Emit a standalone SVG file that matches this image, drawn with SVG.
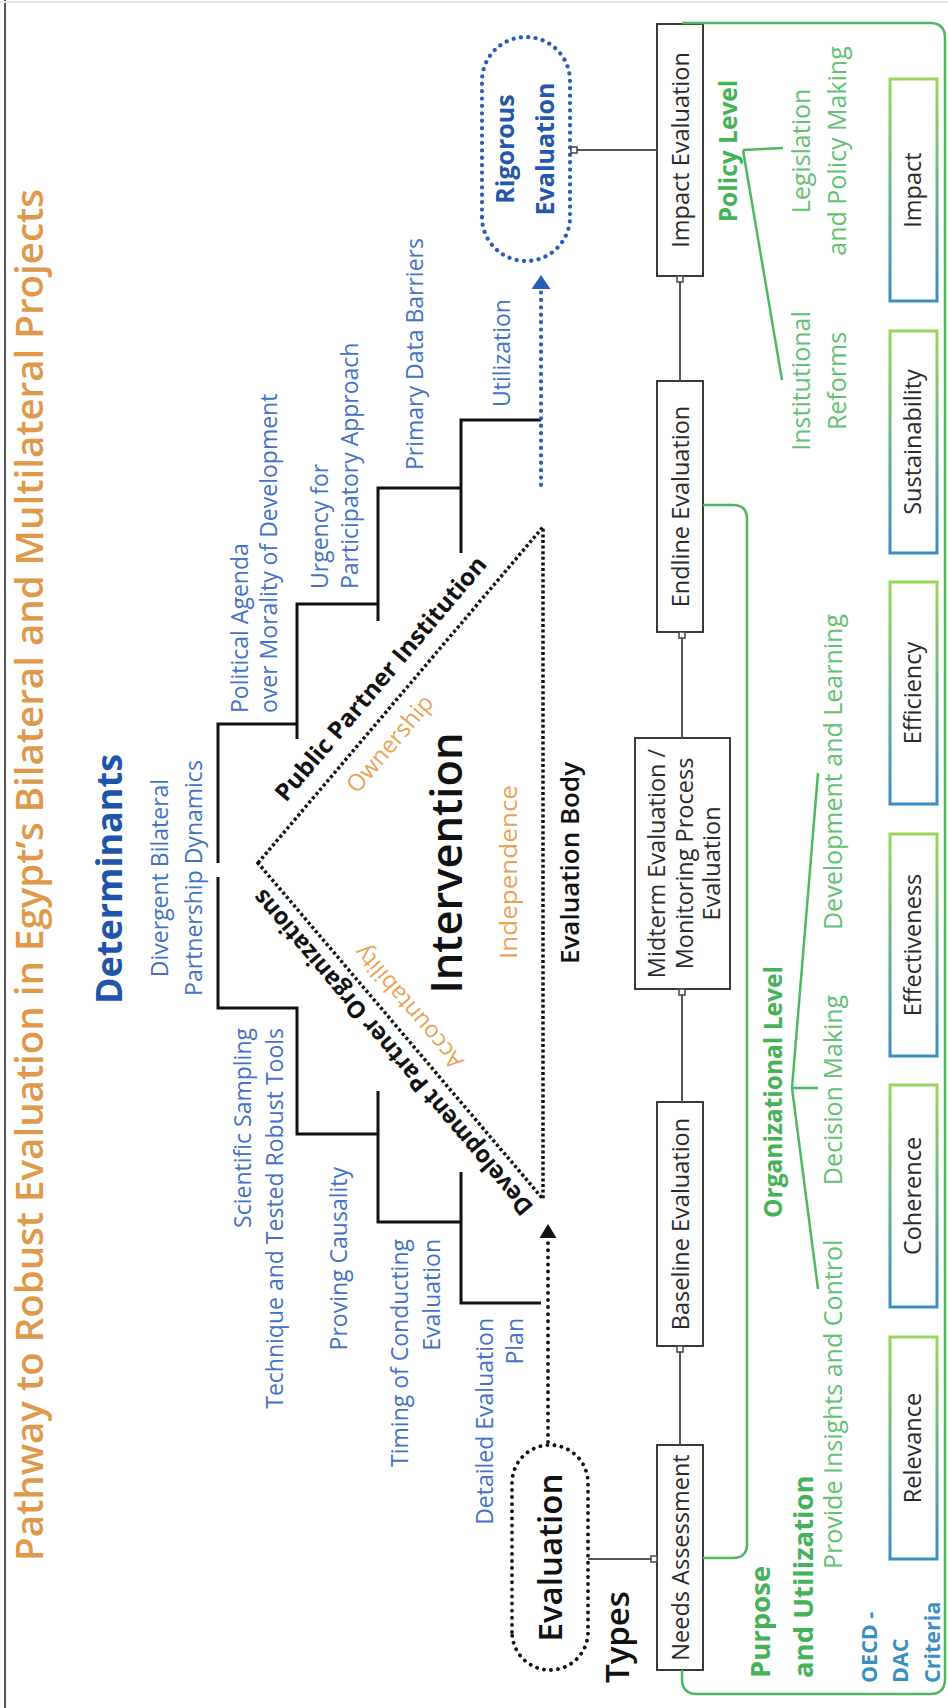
<svg xmlns="http://www.w3.org/2000/svg" width="948" height="1708" viewBox="0 0 948 1708">
<style>
.t{font-family:'Open Sans','Liberation Sans',sans-serif}
.blue{fill:#4472C4;font-size:23px}
.org{fill:#E8A359;font-size:23.5px}
.blk{fill:#111}
.grn{fill:#62C272;font-size:25px}
.grnb{fill:#45B258;font-weight:700}
.box{fill:#fff;stroke:#3a3a3a;stroke-width:2}
.boxt{fill:#2a2a2a;font-size:23.5px;text-anchor:middle}
.crit{fill:#fff;stroke:url(#cg);stroke-width:3}
.step{fill:none;stroke:#111;stroke-width:3}
.conn{fill:none;stroke:#555;stroke-width:2}
.mk{fill:#fff;stroke:#444;stroke-width:1.5}
.gl{fill:none;stroke:#4DB860;stroke-width:2.5}
.dotk{fill:none;stroke:#111;stroke-width:3.5;stroke-dasharray:3 2.6}
.dotr{fill:none;stroke:#111;stroke-width:3.8;stroke-dasharray:0.1 7;stroke-linecap:round}
.dotb{fill:none;stroke:#2A5DB8;stroke-width:4.2;stroke-dasharray:0.1 7.3;stroke-linecap:round}
.mid{text-anchor:middle}
.end{text-anchor:end}
</style>
<defs>
<linearGradient id="cg" x1="0" y1="0" x2="1" y2="0">
<stop offset="0" stop-color="#3A8DBF"/>
<stop offset="1" stop-color="#9BD65A"/>
</linearGradient>
</defs>
<rect width="948" height="1708" fill="#fff"/>
<g transform="translate(0,1708) rotate(-90)" class="t">
<g id="frame">
<path d="M0,5 H1708" stroke="#555" stroke-width="2" fill="none"/>
<path d="M1706,0 V948" stroke="#e6e6e6" stroke-width="2" fill="none"/>
</g>
<g id="title"><text x="833" y="43" class="mid" font-size="38" font-weight="600" fill="#E0994A" textLength="1372" lengthAdjust="spacingAndGlyphs">Pathway to Robust Evaluation in Egypt’s Bilateral and Multilateral Projects</text></g>
<g id="determinants"><text x="829" y="122" class="mid" font-size="36" font-weight="700" fill="#1F55A8">Determinants</text></g>
<g id="det-divergent"><text class="blue mid" x="830" y="168">Divergent Bilateral</text><text class="blue mid" x="830" y="202">Partnership Dynamics</text></g>
<g id="det-political"><text class="blue" x="995" y="248">Political Agenda</text><text class="blue" x="995" y="277">over Morality of Development</text></g>
<g id="det-urgency"><text class="blue" x="1119" y="328">Urgency for</text><text class="blue" x="1119" y="358">Participatory Approach</text></g>
<g id="det-primary"><text class="blue" x="1238" y="423">Primary Data Barriers</text></g>
<g id="det-utilization"><text class="blue" x="1301" y="510">Utilization</text></g>
<g id="det-scientific"><text class="blue end" x="680" y="251">Scientific Sampling</text><text class="blue end" x="680" y="283">Technique and Tested Robust Tools</text></g>
<g id="det-causality"><text class="blue end" x="541" y="347">Proving Causality</text></g>
<g id="det-timing"><text class="blue end" x="469" y="408">Timing of Conducting</text><text class="blue end" x="469" y="440">Evaluation</text></g>
<g id="det-plan"><text class="blue end" x="390" y="493">Detailed Evaluation</text><text class="blue end" x="390" y="523">Plan</text></g>
<g id="intervention">
<polygon class="dotk" points="845,258 1181,543 509,543"/>
<text x="845" y="462" class="mid blk" font-size="44" font-weight="600" textLength="261" lengthAdjust="spacingAndGlyphs">Intervention</text>
<text class="blk mid" font-size="24" font-weight="700" x="1024" y="387" transform="rotate(40.3 1024 387)" textLength="312" lengthAdjust="spacingAndGlyphs">Public Partner Institution</text>
<text class="blk mid" font-size="24" font-weight="700" x="661" y="399" transform="rotate(-40.3 661 399)" textLength="418" lengthAdjust="spacingAndGlyphs">Development Partner Organizations</text>
<text class="org mid" x="959" y="396" transform="rotate(40.3 959 396)">Ownership</text>
<text class="org mid" x="706" y="415" transform="rotate(-40.3 706 415)">Accountability</text>
<text class="org mid" x="836" y="517" textLength="174" lengthAdjust="spacingAndGlyphs">Independence</text>
<text class="blk mid" x="845" y="579" font-size="26" font-weight="600">Evaluation Body</text>
</g>
<g id="evaluation-pill">
<rect class="dotr" x="38" y="512" width="225" height="76" rx="38"/>
<text class="blk mid" x="150.5" y="562" font-size="33" font-weight="600">Evaluation</text>
</g>
<g id="types"><text class="blk" x="25" y="629" font-size="33" font-weight="600">Types</text></g>
<g id="rigorous">
<rect class="dotb" x="1447" y="482" width="224" height="88" rx="44"/>
<text class="mid" x="1559" y="514" font-size="25" font-weight="700" fill="#2456AA">Rigorous</text>
<text class="mid" x="1559" y="554" font-size="25" font-weight="700" fill="#2456AA">Evaluation</text>
</g>
<g id="needs"><rect class="box" x="38" y="657" width="225" height="46"/><text class="boxt" x="150.5" y="689">Needs Assessment</text></g>
<g id="baseline"><rect class="box" x="362" y="657" width="244" height="46"/><text class="boxt" x="484" y="689">Baseline Evaluation</text></g>
<g id="midterm"><rect class="box" x="719" y="635" width="251" height="95"/><text class="boxt" x="844.5" y="665">Midterm Evaluation /</text><text class="boxt" x="844.5" y="693">Monitoring Process</text><text class="boxt" x="844.5" y="720">Evaluation</text></g>
<g id="endline"><rect class="box" x="1076" y="657" width="251" height="46"/><text class="boxt" x="1201.5" y="689">Endline Evaluation</text></g>
<g id="impact-eval"><rect class="box" x="1432" y="657" width="252" height="46"/><text class="boxt" x="1558" y="689">Impact Evaluation</text></g>
<g id="purpose"><text class="grnb" x="30" y="770" font-size="27.5">Purpose</text><text class="grnb" x="30" y="813" font-size="27.5">and Utilization</text></g>
<g id="org-level"><text class="grnb mid" x="616" y="782" font-size="24.5">Organizational Level</text></g>
<g id="policy-level"><text class="grnb mid" x="1557" y="737" font-size="24.5">Policy Level</text></g>
<g id="p-insights"><text class="grn" x="139" y="842">Provide Insights and Control</text></g>
<g id="p-decision"><text class="grn mid" x="618" y="842">Decision Making</text></g>
<g id="p-development"><text class="grn mid" x="936" y="842">Development and Learning</text></g>
<g id="p-institutional"><text class="grn mid" x="1327" y="810">Institutional</text><text class="grn mid" x="1327" y="846">Reforms</text></g>
<g id="p-legislation"><text class="grn mid" x="1557" y="810">Legislation</text><text class="grn mid" x="1557" y="846">and Policy Making</text></g>
<g id="oecd"><text x="25" y="877" font-size="21.5" font-weight="700" fill="#3A8FC2">OECD -</text><text x="25" y="908" font-size="21.5" font-weight="700" fill="#3A8FC2">DAC</text><text x="25" y="940" font-size="21.5" font-weight="700" fill="#3A8FC2">Criteria</text></g>
<g id="c-relevance"><rect class="crit" x="149" y="890" width="222" height="47"/><text class="boxt" x="260" y="921">Relevance</text></g>
<g id="c-coherence"><rect class="crit" x="401" y="890" width="222" height="47"/><text class="boxt" x="512" y="921">Coherence</text></g>
<g id="c-effectiveness"><rect class="crit" x="652" y="890" width="222" height="47"/><text class="boxt" x="763" y="921">Effectiveness</text></g>
<g id="c-efficiency"><rect class="crit" x="904" y="890" width="222" height="47"/><text class="boxt" x="1015" y="921">Efficiency</text></g>
<g id="c-sustainability"><rect class="crit" x="1155" y="890" width="222" height="47"/><text class="boxt" x="1266" y="921">Sustainability</text></g>
<g id="c-impact"><rect class="crit" x="1407" y="890" width="222" height="47"/><text class="boxt" x="1518" y="921">Impact</text></g>
<g id="connectors">
<path class="step" d="M831,218 H700 V297 H574 V378 M617,378 H486 V461 M536,461 H405 V541"/>
<path class="step" d="M845,218 H984 V297 M969,297 H1104 V378 M1087,378 H1220 V461 M1155,461 H1288 V541"/>
<path class="dotb" d="M1223,541 H1420" stroke-width="3.8" stroke-dasharray="0.1 6.5"/>
<polygon points="1433,541 1419,531.5 1419,550.5" fill="#2A5DB8"/>
<path class="dotr" d="M266,548 H470"/>
<polygon points="484,548 470,539.5 470,556.5" fill="#111"/>
<path class="conn" d="M263,680 H356 M606,682 H713 M970,682 H1070 M1327,680 H1426 M149,588 V651 M1558,577 V657"/>
<rect class="mk" x="356" y="677" width="6" height="6"/>
<rect class="mk" x="713" y="679" width="6" height="6"/>
<rect class="mk" x="1070" y="679" width="6" height="6"/>
<rect class="mk" x="1426" y="677" width="6" height="6"/>
<rect class="mk" x="146" y="651" width="6" height="6"/>
<rect class="mk" x="1555" y="571" width="6" height="6"/>
<path class="gl" d="M38,682 H29 Q14,682 14,697 V930 Q14,945 29,945 H1670 Q1685,945 1685,930 V682"/>
<path class="gl" d="M1203,703 V733 Q1203,747 1189,747 H164 Q150,747 150,733 V703"/>
<path class="gl" d="M1558,743 L1560,783 M1558,743 L1328,782"/>
<path class="gl" d="M620,792 L935,818 M620,792 L620,818 M620,792 L419,818"/>
</g>
</g>
</svg>
